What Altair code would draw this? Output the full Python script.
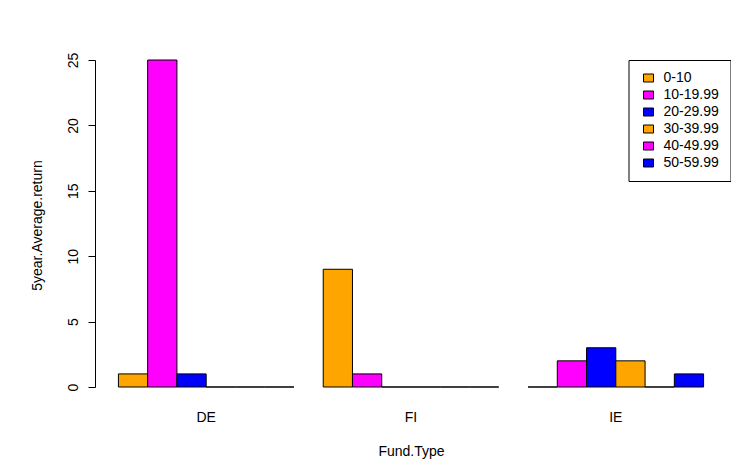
import altair as alt
import pandas as pd

fund_types = ["DE", "FI", "IE"]
bins = ["0-10", "10-19.99", "20-29.99", "30-39.99", "40-49.99", "50-59.99"]
de_values = [1, 25, 1, 0, 0, 0]
fi_values = [9, 1, 0, 0, 0, 0]
ie_values = [0, 2, 3, 2, 0, 1]
bar_colors = ["#FFA500", "#FF00FF", "#0000FF", "#FFA500", "#FF00FF", "#0000FF"]
y_ticks = [0, 5, 10, 15, 20, 25]

rows = []
for g, vals in zip(fund_types, [de_values, fi_values, ie_values]):
    for b, v in zip(bins, vals):
        rows.append({"fund": g, "bin": b, "value": v})
df = pd.DataFrame(rows)

FONT = "Liberation Sans"

chart = alt.Chart(df).mark_bar(stroke="black", strokeWidth=1, opacity=1).encode(
    x=alt.X("fund:N", sort=fund_types,
            scale=alt.Scale(paddingInner=1/7, paddingOuter=0.8/7),
            axis=alt.Axis(title="Fund.Type", domain=False, ticks=False, tickSize=0,
                          labelAngle=0, labelPadding=23, labelFontSize=14, labelFont=FONT,
                          labelColor="#000000", labelBaseline="top",
                          titleFont=FONT, titleFontSize=14, titleFontWeight="normal",
                          titleColor="#000000", titleY=64, titleBaseline="middle")),
    xOffset=alt.XOffset("bin:N", sort=bins, scale=alt.Scale(paddingInner=0, paddingOuter=0)),
    y=alt.Y("value:Q", scale=alt.Scale(domain=[0, 25], nice=False, zero=True),
            axis=alt.Axis(values=y_ticks, title="5year.Average.return", grid=False,
                          tickSize=7, tickColor="#000000", domainColor="#000000",
                          labelAngle=270, labelAlign="center", labelBaseline="bottom",
                          labelPadding=8, labelFontSize=14, labelFont=FONT, labelColor="#000000",
                          titleFont=FONT, titleFontSize=14, titleFontWeight="normal",
                          titleColor="#000000", titleAngle=270, titleX=-58, titleY=165,
                          titleAlign="center", titleBaseline="middle")),
    color=alt.Color("bin:N", sort=bins,
                    scale=alt.Scale(domain=bins, range=bar_colors),
                    legend=alt.Legend(title=None, orient="none", legendX=533.5, legendY=0,
                                      strokeColor="black", fillColor="white", padding=11,
                                      rowPadding=3,
                                      symbolType="M-0.6,-0.8H1.4V0.8H-0.6Z", symbolSize=100,
                                      symbolStrokeColor="black", symbolStrokeWidth=1,
                                      symbolOpacity=1,
                                      labelFontSize=14, labelFont=FONT, labelColor="#000000",
                                      labelOffset=10)),
).properties(
    width=632, height=327,
    autosize=alt.AutoSizeParams(type="none"),
    padding={"left": 87, "top": 52, "right": 4, "bottom": 72},
).configure_view(stroke=None)

chart.save("out.html", embed_options={"renderer": "svg", "actions": False})
